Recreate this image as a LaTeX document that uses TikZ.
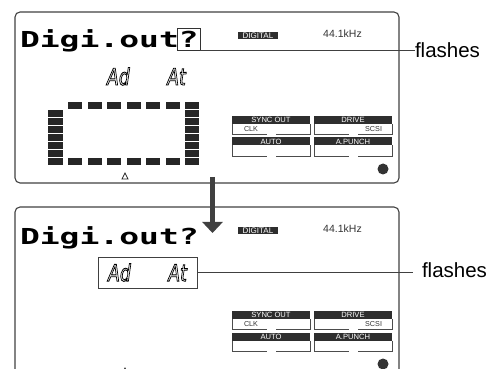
\documentclass[tikz,border=0pt]{standalone}
\usepackage{graphicx}
\usepackage{fontspec}
\setmainfont{Liberation Sans}
\newfontfamily\lcdfont{DejaVu Sans Mono}
\newfontfamily\segfont{DejaVu Sans}
\usepackage{tikz}
\usetikzlibrary{arrows.meta, positioning}

\newcommand{\lcd}[1]{\scalebox{1.5}[1]{#1}}
\newcommand{\seg}[1]{\scalebox{0.75}[1]{\special{pdf:literal direct 1 Tr 0.9 w}#1\special{pdf:literal direct 0 Tr}}}

\begin{document}
\begin{tikzpicture}[
    x=1pt, y=-1pt,
    every node/.style={inner sep=0pt, outer sep=0pt},
    frame/.style={draw=black!75, line width=1.1pt, rounded corners=5pt},
    bar/.style={fill=black!85},
    hdr/.style={fill=black!82, text=white, font=\fontsize{7.6}{8}\selectfont,
                minimum width=78pt, minimum height=8pt},
    tag/.style={fill=black!82, text=white, font=\fontsize{8}{8}\selectfont,
                minimum width=40pt, minimum height=7.5pt},
    cell/.style={draw=black!70, line width=0.7pt},
    small/.style={font=\fontsize{7.2}{8}\selectfont, text=black!80},
    rate/.style={font=\fontsize{10.5}{12}\selectfont, text=black!80},
    big/.style={font=\lcdfont\bfseries\fontsize{22}{24}\selectfont},
    segtext/.style={font=\segfont\itshape\fontsize{23}{24}\selectfont},
    note/.style={font=\fontsize{20.5}{24}\selectfont},
    lead/.style={draw=black!75, line width=0.8pt},
    arr/.style={-{Triangle[width=20pt, length=11pt]}, line width=5pt, draw=black!75}
]
\path[use as bounding box, clip] (0,0) rectangle (499,369);

% both displays
\foreach \p/\dy in {a/0, b/195}{
  \draw[frame] (15,12+\dy) rectangle (399,183+\dy);
  \node[tag]  (dig\p)  at (258,35.5+\dy) {DIGITAL};
  \node[rate] (rate\p) at (342.5,33.5+\dy) {44.1kHz};
  \node[hdr] (sync\p)  at (271,120+\dy)   {SYNC OUT};
  \node[hdr] (drive\p) at (353,120+\dy)   {DRIVE};
  \node[hdr] (auto\p)  at (271,141.5+\dy) {AUTO};
  \node[hdr] (punch\p) at (353,141.5+\dy) {A.PUNCH};
  \foreach \h in {sync,drive,auto,punch}{
    \draw[cell] (\h\p.south west) -- ++(0,10.5) -- ++(34.5,0);
    \draw[cell] (\h\p.south east) -- ++(0,10.5) -- ++(-34.5,0);
  }
  \node[small, anchor=west] (clk\p)  at ([shift={(12,5.2)}]sync\p.south west)   {CLK};
  \node[small, anchor=east] (scsi\p) at ([shift={(-10,5.2)}]drive\p.south east) {SCSI};
  \fill[black!80] (383,169+\dy) circle (5.5);
  \draw[black!85, line width=0.7pt] (122,179+\dy) -- (128,179+\dy) -- (125,173+\dy) -- cycle;
}

% upper display
\node[big, anchor=base west] (title) at (20,48) {\lcd{Digi.out}};
\node[big, draw=black!80, line width=0.8pt, minimum width=23pt, minimum height=22pt]
     (qbox) at (188.5,39.5) {\lcd{?}};
\node[segtext, anchor=base west] (modes) at (107,85) {\seg{Ad\hspace{50pt}At}};
\node[note, anchor=west] (flashA) at (415,50.5) {flashes};
\draw[lead] (qbox.south east) -- (qbox.south east -| flashA.west);

\foreach \i in {0,...,5}{
  \fill[bar] (68+19.6*\i,102) rectangle ++(14,7);
  \fill[bar] (68+19.6*\i,158) rectangle ++(14,7);
}
\foreach \k in {1,...,7} \fill[bar] (48,102+8*\k) rectangle ++(15,6.7);
\foreach \k in {0,...,7} \fill[bar] (185,102+8*\k) rectangle ++(14,6.7);

% lower display
\node[big, anchor=base west] (title2) at (20,244) {\lcd{Digi.out?}};
\node[segtext, draw=black!75, line width=0.8pt, minimum width=99pt, minimum height=31pt]
     (modebox) at (147.5,272.5) {\seg{Ad\hspace{50pt}At}};
\node[note, anchor=west] (flashB) at (422,270) {flashes};
\draw[lead] (modebox.east) -- ([xshift=-9pt]flashB.west |- modebox.east);

\coordinate (arrtop) at (212.5,177);
\coordinate (arrtip) at (212.5,233);
\draw[arr] (arrtop) -- (arrtip);
\end{tikzpicture}
\end{document}
